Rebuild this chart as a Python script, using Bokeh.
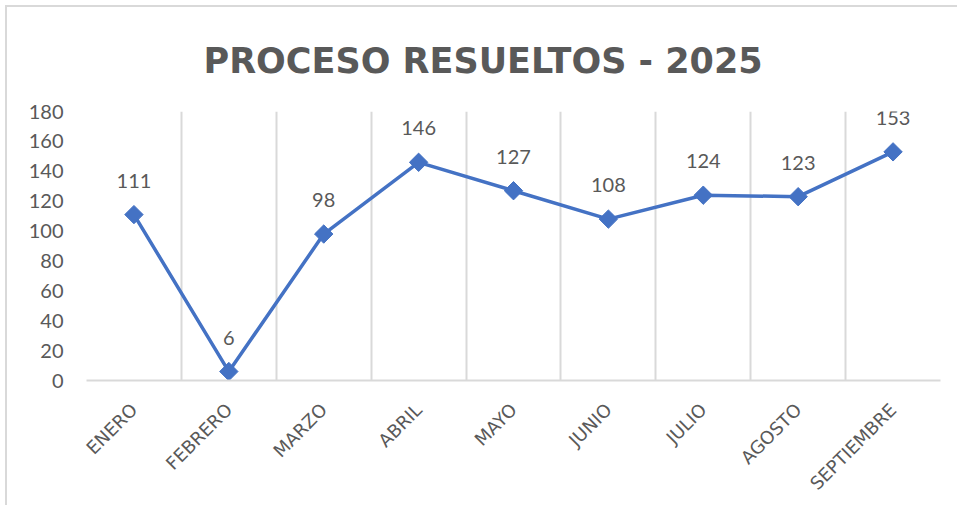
import math
from bokeh.plotting import figure
from bokeh.models import Range1d, FixedTicker, ColumnDataSource
from bokeh.core.properties import value
from bokeh.embed import file_html
from bokeh.resources import INLINE

meses = ["ENERO", "FEBRERO", "MARZO", "ABRIL", "MAYO", "JUNIO", "JULIO", "AGOSTO", "SEPTIEMBRE"]
resueltos = [111, 6, 98, 146, 127, 108, 124, 123, 153]
y_ticks = [0, 20, 40, 60, 80, 100, 120, 140, 160, 180]
titulo = "PROCESO RESUELTOS - 2025"

W, H = 952, 500
AZUL = "#4472C4"
GRIS = "#595959"
REJILLA = "#d9d9d9"

xs = [i + 0.5 for i in range(len(meses))]
src = ColumnDataSource(dict(x=xs, y=resueltos, lab=[str(v) for v in resueltos]))

p = figure(width=W, height=H, output_backend="svg", toolbar_location=None,
           x_range=Range1d(0, len(meses)), y_range=Range1d(0, y_ticks[-1]),
           min_border_left=79, min_border_right=W - 933, min_border_top=104, min_border_bottom=127)
p.styles = {"margin-left": "5px", "margin-top": "5px",
            "border-left": "2px solid #d9d9d9", "border-top": "2px solid #d9d9d9"}
p.outline_line_color = None
p.border_fill_color = "white"
p.background_fill_color = "white"

# title
p.title.text = titulo
p.title.align = "left"
p.title.offset = 117
p.title.standoff = 61
p.title.text_font = "DejaVu Sans"
p.title.text_font_style = "bold"
p.title.text_font_size = "35px"
p.title.text_color = GRIS

# grid: vertical lines at category boundaries
p.xgrid.ticker = FixedTicker(ticks=list(range(len(meses) + 1)))
p.xgrid.grid_line_color = REJILLA
p.xgrid.grid_line_width = 2
p.ygrid.grid_line_color = None

# x axis
p.xaxis.ticker = FixedTicker(ticks=xs)
p.xaxis.major_label_overrides = {x: m for x, m in zip(xs, meses)}
p.xaxis.major_label_orientation = math.pi / 4
p.xaxis.axis_line_color = REJILLA
p.xaxis.axis_line_width = 2
p.xaxis.major_tick_line_color = None
p.xaxis.minor_tick_line_color = None
p.xaxis.major_label_text_font = "DejaVu Sans"
p.xaxis.major_label_text_font_size = "18px"
p.xaxis.major_label_text_color = GRIS
p.xaxis.major_label_standoff = 20

# y axis
p.yaxis.ticker = FixedTicker(ticks=y_ticks)
p.yaxis.axis_line_color = None
p.yaxis.major_tick_line_color = None
p.yaxis.minor_tick_line_color = None
p.yaxis.major_label_text_font = "Lato"
p.yaxis.major_label_text_font_size = "20px"
p.yaxis.major_label_text_color = GRIS
p.yaxis.major_label_standoff = 17

p.line("x", "y", source=src, line_color=AZUL, line_width=3.5)
p.scatter("x", "y", source=src, marker="square", size=13, angle=math.pi / 4,
          fill_color=AZUL, line_color=AZUL)
p.text("x", "y", text="lab", source=src, text_align="center", text_baseline="alphabetic",
       y_offset=-34, text_font=value("Lato"), text_font_size="20px", text_color=GRIS)

open("out.html", "w").write(file_html(p, INLINE))
